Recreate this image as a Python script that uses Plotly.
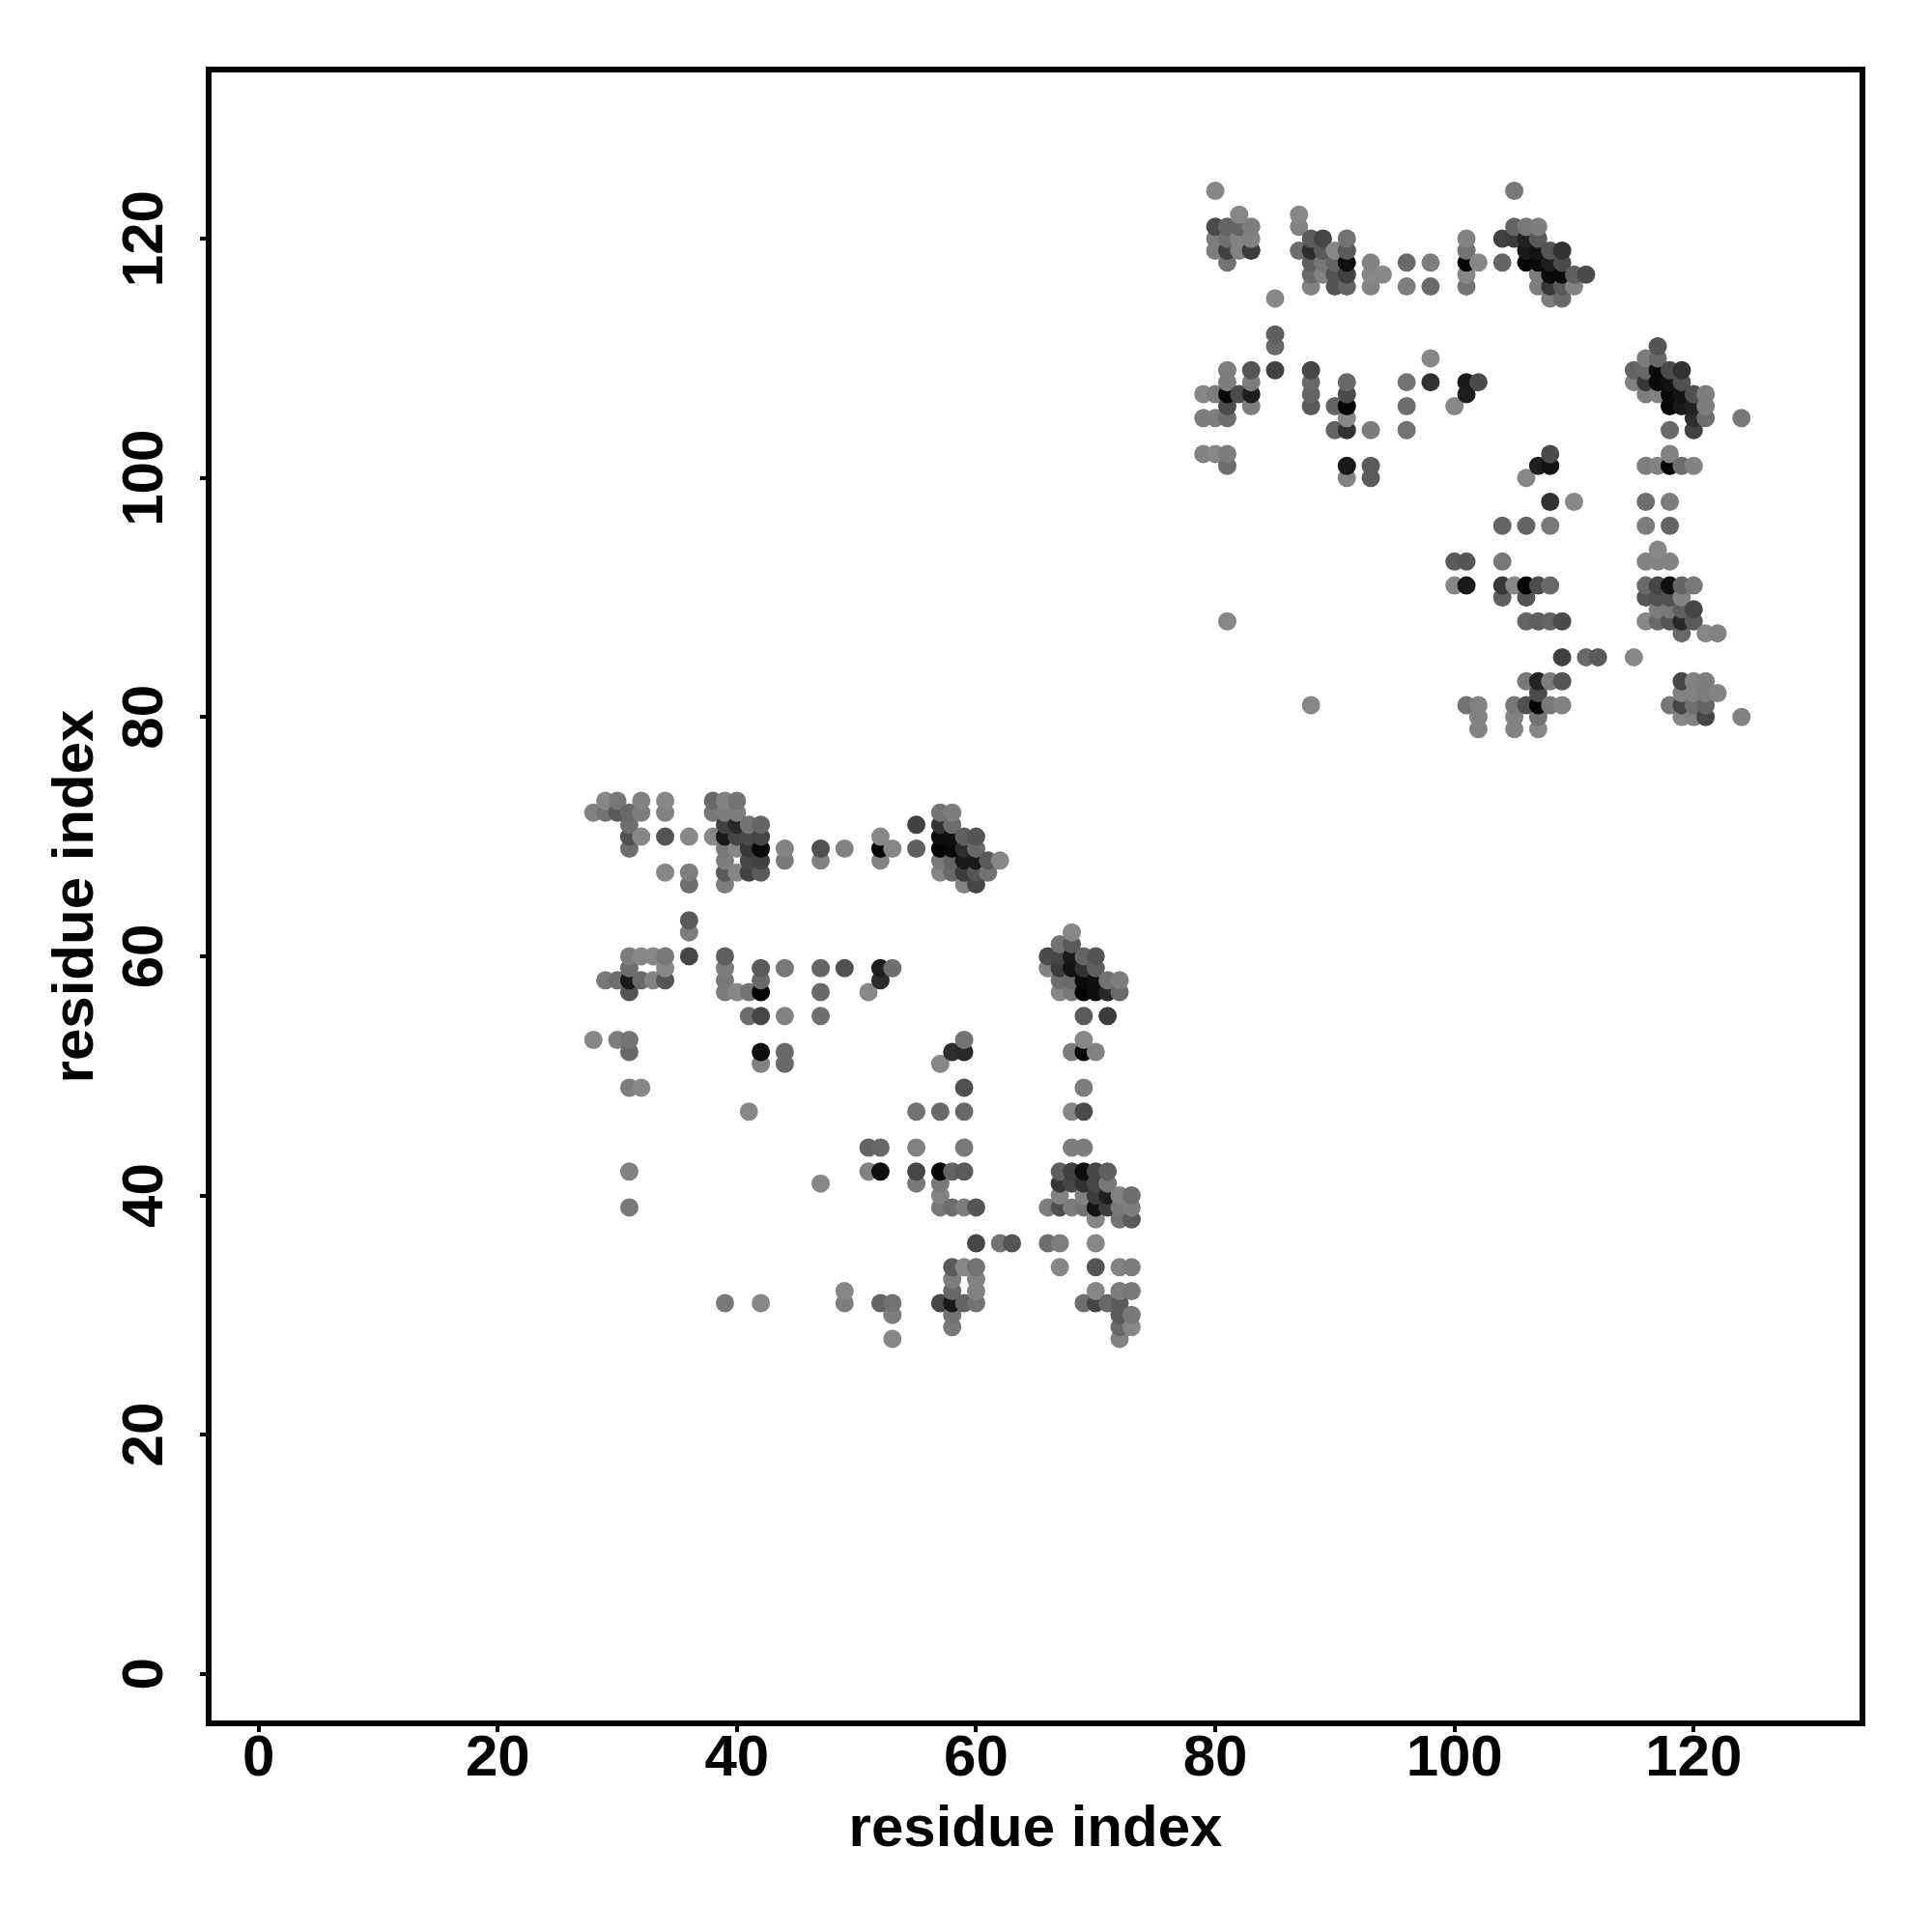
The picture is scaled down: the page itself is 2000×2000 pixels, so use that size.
import plotly.graph_objects as go

tick_values = [0, 20, 40, 60, 80, 100, 120]
axis_title = "residue index"

row_y = [73, 72, 71, 70, 69, 68, 67, 66, 63, 62, 61, 60, 59, 58, 57, 55, 53, 52, 51, 49, 47, 44, 42, 41, 40, 39, 38, 36, 34, 33, 32, 31, 30, 29, 28,
         124, 122, 121, 120, 119, 118, 117, 116, 115, 112, 111, 110, 109, 108, 107, 106, 105, 104, 102, 101, 100, 98, 96, 94, 93, 91, 90, 89, 88, 87, 85, 83, 82, 81, 80, 79]

row_x = [
    [29, 30, 32, 34, 38, 39, 40],
    [28, 29, 30, 31, 32, 34, 38, 39, 40, 57, 58],
    [31, 39, 40, 41, 42, 55, 57, 58],
    [31, 32, 34, 36, 38, 39, 40, 41, 42, 52, 57, 58, 59, 60],
    [31, 39, 40, 41, 42, 44, 47, 49, 52, 53, 55, 57, 58, 59, 60],
    [39, 41, 42, 44, 47, 52, 57, 58, 59, 60, 61, 62],
    [34, 36, 39, 40, 41, 42, 57, 58, 59, 60, 61],
    [36, 39, 59, 60],
    [36],
    [36, 68],
    [67, 68],
    [31, 32, 33, 34, 36, 39, 66, 67, 68, 69, 70],
    [31, 34, 39, 42, 44, 47, 49, 52, 53, 66, 67, 68, 69, 70],
    [29, 30, 31, 32, 33, 34, 39, 42, 52, 67, 68, 69, 70, 71, 72],
    [31, 39, 40, 41, 42, 47, 51, 67, 68, 69, 70, 71, 72],
    [41, 42, 44, 47, 69, 71],
    [28, 30, 31, 59, 69],
    [31, 42, 44, 58, 59, 68, 69, 70],
    [42, 44, 57],
    [31, 32, 59, 69],
    [41, 55, 57, 59, 68, 69],
    [51, 52, 55, 59, 68, 69],
    [31, 51, 52, 55, 57, 58, 59, 67, 68, 69, 70, 71],
    [47, 55, 57, 67, 68, 69, 70, 71],
    [57, 67, 69, 70, 71, 72, 73],
    [31, 57, 58, 59, 60, 66, 67, 68, 69, 70, 71, 72, 73],
    [70, 72, 73],
    [60, 62, 63, 66, 67, 70],
    [58, 59, 60, 67, 70, 72, 73],
    [58, 60],
    [49, 58, 60, 70, 72, 73],
    [39, 42, 49, 52, 53, 57, 58, 59, 60, 69, 70, 71, 72],
    [53, 58, 72, 73],
    [58, 72, 73],
    [53, 72],
    [80, 105],
    [82, 87],
    [80, 81, 82, 83, 87, 105, 106, 107],
    [80, 81, 82, 83, 88, 89, 91, 101, 104, 105, 106, 107],
    [80, 81, 82, 83, 87, 88, 89, 90, 91, 101, 106, 107, 108, 109],
    [81, 88, 89, 90, 91, 93, 96, 98, 101, 102, 104, 106, 107, 108, 109],
    [88, 89, 90, 91, 93, 94, 101, 107, 108, 109, 110, 111],
    [88, 90, 91, 93, 96, 98, 101, 107, 108, 109, 110],
    [85, 108, 109],
    [85],
    [85, 117],
    [98, 116, 117],
    [81, 83, 85, 88, 115, 116, 117, 118, 119],
    [81, 83, 88, 91, 96, 98, 101, 102, 115, 116, 117, 118, 119],
    [79, 80, 81, 82, 83, 88, 91, 101, 116, 117, 118, 119, 120, 121],
    [81, 83, 88, 90, 91, 96, 100, 118, 119, 120, 121],
    [79, 80, 81, 91, 120, 121, 124],
    [90, 91, 93, 96, 118, 120],
    [79, 80, 81, 108, 118],
    [81, 91, 93, 107, 108, 116, 117, 118, 119, 120],
    [91, 93, 106],
    [108, 110, 116, 118],
    [104, 106, 108, 116, 118],
    [117],
    [100, 101, 104, 116, 117, 118],
    [100, 101, 104, 105, 106, 107, 108, 116, 117, 118, 119, 120],
    [104, 106, 116, 117, 118, 119],
    [117, 118, 119, 120],
    [81, 106, 107, 108, 109, 116, 117, 118, 119, 120],
    [119, 121, 122],
    [109, 111, 112, 115],
    [106, 107, 108, 109, 119, 120, 121],
    [107, 119, 120, 121, 122],
    [88, 101, 102, 105, 106, 107, 108, 109, 118, 119, 120, 121],
    [102, 105, 107, 119, 120, 121, 124],
    [102, 105, 107],
]

row_gray = [
    [135, 120, 130, 135, 105, 130, 115],
    [130, 115, 90, 105, 125, 130, 120, 125, 125, 115, 125],
    [110, 65, 40, 115, 100, 65, 50, 110],
    [80, 135, 85, 135, 135, 25, 70, 75, 70, 135, 12, 15, 95, 85],
    [110, 120, 135, 55, 10, 130, 80, 130, 5, 135, 95, 5, 10, 45, 105],
    [125, 70, 65, 120, 130, 130, 120, 100, 25, 25, 90, 135],
    [135, 125, 90, 135, 65, 90, 135, 105, 60, 85, 115],
    [110, 125, 130, 70],
    [90],
    [125, 135],
    [115, 90],
    [125, 135, 135, 120, 70, 95, 75, 70, 25, 100, 85],
    [110, 135, 125, 90, 120, 100, 80, 30, 110, 130, 60, 20, 50, 95],
    [120, 110, 25, 105, 130, 85, 120, 105, 45, 110, 105, 10, 15, 115, 125],
    [85, 125, 135, 115, 5, 105, 135, 135, 120, 5, 15, 40, 105],
    [110, 70, 130, 110, 90, 60],
    [135, 125, 115, 115, 135],
    [105, 15, 105, 45, 40, 125, 5, 130],
    [130, 105, 135],
    [125, 135, 80, 125],
    [135, 115, 105, 105, 135, 75],
    [100, 105, 130, 120, 125, 125],
    [130, 130, 15, 70, 8, 100, 90, 95, 65, 15, 70, 95],
    [135, 120, 120, 55, 70, 50, 70, 120],
    [130, 130, 130, 60, 30, 130, 110],
    [120, 120, 110, 125, 85, 125, 80, 125, 115, 20, 60, 120, 125],
    [135, 115, 90],
    [70, 115, 85, 110, 125, 135],
    [90, 135, 115, 135, 85, 130, 125],
    [125, 130],
    [135, 105, 130, 135, 125, 120],
    [120, 135, 125, 100, 115, 70, 25, 100, 115, 110, 70, 105, 90],
    [125, 115, 90, 120],
    [120, 105, 135],
    [135, 130],
    [135, 120],
    [135, 135],
    [75, 100, 100, 125, 130, 100, 120, 125],
    [125, 110, 130, 130, 90, 70, 115, 130, 65, 60, 35, 90],
    [125, 65, 130, 60, 110, 45, 90, 135, 90, 115, 25, 20, 85, 50],
    [115, 95, 120, 100, 15, 130, 105, 125, 5, 135, 100, 5, 10, 30, 75],
    [105, 130, 85, 65, 135, 135, 135, 125, 10, 10, 95, 75],
    [130, 85, 100, 130, 125, 105, 115, 125, 55, 90, 130],
    [135, 125, 105],
    [95],
    [105, 85],
    [135, 125, 105],
    [125, 85, 65, 70, 100, 105, 10, 75, 50],
    [125, 125, 105, 105, 115, 50, 25, 75, 130, 55, 10, 20, 80],
    [135, 125, 10, 75, 30, 100, 75, 30, 125, 130, 10, 20, 80, 125],
    [75, 125, 90, 100, 5, 110, 135, 5, 25, 35, 125],
    [125, 125, 110, 135, 45, 110, 120],
    [100, 50, 125, 115, 105, 65],
    [130, 135, 125, 75, 130],
    [110, 25, 90, 30, 20, 125, 130, 5, 110, 130],
    [130, 90, 135],
    [50, 135, 110, 125],
    [100, 100, 120, 125, 100],
    [135],
    [90, 85, 120, 130, 130, 130],
    [135, 25, 55, 135, 5, 75, 105, 105, 70, 15, 100, 120],
    [95, 85, 85, 80, 80, 130],
    [125, 120, 95, 70],
    [135, 100, 95, 100, 75, 135, 105, 85, 40, 90],
    [105, 135, 130],
    [65, 105, 90, 135],
    [120, 35, 125, 85, 70, 130, 125],
    [75, 130, 130, 125, 130],
    [135, 115, 130, 120, 80, 5, 120, 130, 120, 70, 110, 100],
    [130, 130, 115, 135, 130, 70, 130],
    [130, 130, 135],
]

# Expand the rows; drawing runs by x, then y, as the overlaps in the picture show.
points = []
for y, xs, grays in zip(row_y, row_x, row_gray, strict=True):
    for x, g in zip(xs, grays, strict=True):
        points.append((x, y, g))
points.sort()

fig = go.Figure(go.Scatter(
    x=[p[0] for p in points],
    y=[p[1] for p in points],
    mode="markers",
    marker=dict(size=19, color=[f"rgb({p[2]},{p[2]},{p[2]})" for p in points], line=dict(width=0)),
    showlegend=False,
))

axis_common = dict(
    tickmode="array",
    tickvals=tick_values,
    ticktext=[str(t) for t in tick_values],
    ticks="outside",
    ticklen=6,
    tickwidth=4,
    tickcolor="black",
    showgrid=False,
    zeroline=False,
    showline=True,
    linecolor="black",
    linewidth=6,
    mirror=True,
    automargin=False,
    tickfont=dict(family="Liberation Sans", size=60, color="black", weight=700),
)
title_font = dict(family="Liberation Sans", size=60, color="black", weight=700)

fig.update_layout(
    width=1992,
    height=1992,
    autosize=False,
    paper_bgcolor="white",
    plot_bgcolor="white",
    margin=dict(l=211, r=75, t=67, b=219, pad=0),
    xaxis=dict(axis_common, range=[-3.93, 133.87], ticklabelstandoff=-27,
               title=dict(text=axis_title, standoff=21, font=title_font)),
    yaxis=dict(axis_common, range=[-3.9, 133.9], tickangle=-90, ticklabelstandoff=15, ticklabelshift=9,
               title=dict(text=axis_title, standoff=0, font=title_font)),
)

fig.write_html("out.html")
